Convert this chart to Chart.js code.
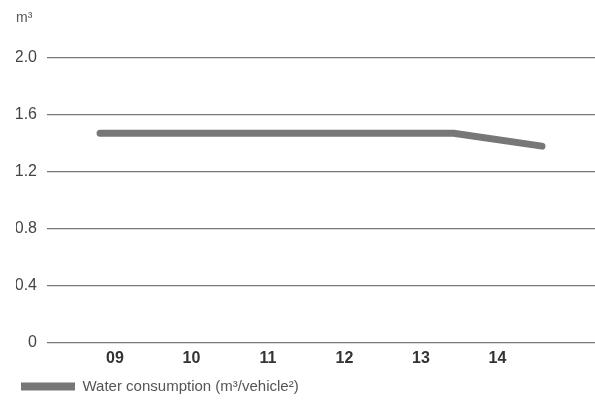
<!DOCTYPE html>
<html>
<head>
<meta charset="utf-8">
<script src="https://cdn.jsdelivr.net/npm/chart.js@4"></script>
<style>
  html, body { margin: 0; padding: 0; background: #fff; }
  #wrap { width: 595px; height: 401px; }
</style>
</head>
<body>
<div id="wrap"><canvas id="chart"></canvas></div>
<script>
// ---------------------------------------------------------------------------
// Data
// ---------------------------------------------------------------------------
const YEARS = ["09", "10", "11", "12", "13", "14"];
const WATER = [1.47, 1.47, 1.47, 1.47, 1.47, 1.38];
const Y_TICKS = [0, 0.4, 0.8, 1.2, 1.6, 2.0];
const SERIES_LABEL = "Water consumption (m³/vehicle²)";
const UNIT = "m³";

const FONT = "'Liberation Sans', Arial, sans-serif";
const GREY = "#777777";

new Chart(document.getElementById("chart"), {
  type: "line",
  data: {
    datasets: [{
      label: SERIES_LABEL,
      data: WATER.map((v, i) => ({ x: i, y: v })),
      xAxisID: "xl",
      borderColor: GREY,
      backgroundColor: GREY,
      borderWidth: 7,
      borderCapStyle: "round",
      borderJoinStyle: "round",
      pointRadius: 0,
      tension: 0,
    }],
  },
  options: {
    responsive: true,
    maintainAspectRatio: false,
    animation: false,
    layout: { padding: { left: 16, right: 0, top: 0, bottom: -3 } },
    scales: {
      // year labels
      x: {
        type: "linear",
        position: "bottom",
        min: -0.889,
        max: 6.275,
        grid: { display: false, drawTicks: false },
        border: { display: false },
        ticks: {
          stepSize: 1,
          includeBounds: false,
          autoSkip: false,
          maxRotation: 0,
          padding: 6,
          color: "#333",
          font: { family: FONT, size: 16, weight: "bold" },
          callback: v => (Number.isInteger(v) && YEARS[v] !== undefined ? YEARS[v] : ""),
        },
      },
      // scale the line is drawn on
      xl: {
        type: "linear",
        display: false,
        min: -0.6,
        max: 5.6,
      },
      y: {
        min: 0,
        max: 2.0,
        afterBuildTicks: axis => { axis.ticks = Y_TICKS.map(v => ({ value: v })); },
        afterFit: axis => { axis.width = 31; },
        grid: { color: GREY, lineWidth: 1.2, drawTicks: false },
        border: { display: false },
        ticks: {
          padding: 10,
          color: "#444",
          font: { family: FONT, size: 16 },
          callback: v => (v === 0 ? "0" : v.toFixed(1)),
        },
      },
    },
    plugins: {
      title: {
        display: true,
        text: UNIT,
        align: "start",
        color: "#555",
        font: { family: FONT, size: 14, weight: "normal" },
        padding: { top: 10, bottom: 31 },
      },
      legend: {
        position: "bottom",
        align: "start",
        labels: {
          boxWidth: 54,
          boxHeight: 8,
          padding: 5,
          color: "#555",
          font: { family: FONT, size: 15, lineHeight: 1 },
          generateLabels: chart =>
            Chart.defaults.plugins.legend.labels.generateLabels(chart)
              .map(l => ({ ...l, lineWidth: 0, fillStyle: GREY })),
        },
      },
      tooltip: { enabled: false },
    },
  },
});
</script>
</body>
</html>
